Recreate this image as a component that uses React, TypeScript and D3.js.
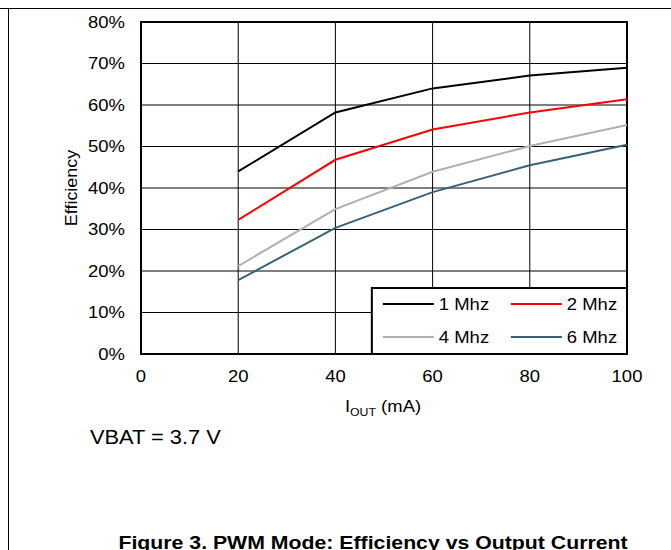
import React, { useEffect, useRef } from 'react'
import * as d3 from 'd3'

const currents = [20, 40, 60, 80, 100]
const eff1Mhz = [44.0, 58.2, 64.0, 67.1, 69.0]
const eff2Mhz = [32.3, 46.8, 54.1, 58.2, 61.4]
const eff4Mhz = [21.2, 34.9, 43.9, 50.1, 55.2]
const eff6Mhz = [17.8, 30.4, 39.0, 45.5, 50.4]
const seriesNames = ['1 Mhz', '2 Mhz', '4 Mhz', '6 Mhz']
const seriesColors = ['#000000', '#ff0000', '#b0b0b0', '#376276']
const xTicks = [0, 20, 40, 60, 80, 100]
const yTicks = [0, 10, 20, 30, 40, 50, 60, 70, 80]

const W = 671
const H = 550
const margin = { top: 22, right: 44, bottom: 196, left: 141 }
const FONT = '"Liberation Sans", Arial, sans-serif'
const SX = 1.12 // the source text is a bit wider than Arial

const Chart = () => {
  const ref = useRef<SVGSVGElement>(null)

  useEffect(() => {
    const svg = d3.select(ref.current)
    svg.selectAll('*').remove()

    const innerW = W - margin.left - margin.right
    const innerH = H - margin.top - margin.bottom

    const x = d3.scaleLinear().domain([0, 100]).range([0, innerW])
    const y = d3.scaleLinear().domain([0, 80]).range([innerH, 0])

    const label = (parent: any, px: number, py: number, size: number, anchor: string, txt: string, rot = 0) =>
      parent
        .append('text')
        .attr('transform', `translate(${px},${py}) rotate(${rot}) scale(${SX},1)`)
        .attr('dy', '0.35em')
        .attr('text-anchor', anchor)
        .attr('font-family', FONT)
        .attr('font-size', size)
        .text(txt)

    // outer frame: top and left only
    svg.append('line').attr('x1', 0).attr('x2', W).attr('y1', 8.5).attr('y2', 8.5).attr('stroke', '#000')
    svg.append('line').attr('x1', 8.5).attr('x2', 8.5).attr('y1', 8).attr('y2', H).attr('stroke', '#000')

    const g = svg.append('g').attr('transform', `translate(${margin.left},${margin.top})`)

    g.selectAll('.vgrid')
      .data(xTicks.slice(1, -1))
      .join('line')
      .attr('x1', d => x(d))
      .attr('x2', d => x(d))
      .attr('y1', 0)
      .attr('y2', innerH)
      .attr('stroke', '#000')
      .attr('stroke-width', 1)

    g.selectAll('.hgrid')
      .data(yTicks.slice(1, -1))
      .join('line')
      .attr('x1', 0)
      .attr('x2', innerW)
      .attr('y1', d => y(d))
      .attr('y2', d => y(d))
      .attr('stroke', '#000')
      .attr('stroke-width', 1)

    g.append('rect')
      .attr('x', 0)
      .attr('y', 0)
      .attr('width', innerW)
      .attr('height', innerH)
      .attr('fill', 'none')
      .attr('stroke', '#000')
      .attr('stroke-width', 2)

    yTicks.forEach(d => label(g, -16, y(d), 16.5, 'end', `${d}%`))
    xTicks.forEach(d => label(g, x(d), innerH + 22, 16.5, 'middle', `${d}`))

    const all = [eff1Mhz, eff2Mhz, eff4Mhz, eff6Mhz]
    const line = d3
      .line<number>()
      .x((_, i) => x(currents[i]))
      .y(d => y(d))

    all.forEach((vals, i) => {
      g.append('path')
        .attr('d', line(vals))
        .attr('fill', 'none')
        .attr('stroke', seriesColors[i])
        .attr('stroke-width', 2)
    })

    // legend
    const lx = x(47.5)
    const ly = y(15.9)
    const lw = innerW - lx
    const lh = innerH - ly
    const lg = g.append('g').attr('transform', `translate(${lx},${ly})`)
    lg.append('rect')
      .attr('width', lw)
      .attr('height', lh)
      .attr('fill', '#fff')
      .attr('stroke', '#000')
      .attr('stroke-width', 2)
    seriesNames.forEach((name, i) => {
      const col = i % 2
      const row = Math.floor(i / 2)
      const ox = 11 + col * 128
      const oy = 16 + row * 33
      lg.append('line')
        .attr('x1', ox)
        .attr('x2', ox + 51)
        .attr('y1', oy)
        .attr('y2', oy)
        .attr('stroke', seriesColors[i])
        .attr('stroke-width', 2)
      label(lg, ox + 56, oy, 16.5, 'start', name)
    })

    // axis titles
    const xt = g
      .append('text')
      .attr('transform', `translate(${innerW / 2 - 1},${innerH + 58}) scale(${SX},1)`)
      .attr('text-anchor', 'middle')
      .attr('font-family', FONT)
      .attr('font-size', 16.5)
    xt.append('tspan').text('I')
    xt.append('tspan').attr('font-size', 11).attr('dy', 4).text('OUT')
    xt.append('tspan').attr('dy', -4).text(' (mA)')

    label(g, -70, innerH / 2, 16, 'middle', 'Efficiency', -90)

    svg.append('text')
      .attr('transform', `translate(90,444) scale(${SX},1)`)
      .attr('font-family', FONT)
      .attr('font-size', 19.5)
      .text('VBAT = 3.7 V')

    svg.append('text')
      .attr('transform', `translate(373,549) scale(${SX},1)`)
      .attr('text-anchor', 'middle')
      .attr('font-family', FONT)
      .attr('font-weight', 'bold')
      .attr('font-size', 19)
      .text('Figure 3. PWM Mode: Efficiency vs Output Current')
  }, [])

  return <svg ref={ref} width={W} height={H} style={{ display: 'block', background: '#fff' }} />
}

const App = () => (
  <div style={{ position: 'absolute', left: 0, top: 0 }}>
    <Chart />
  </div>
)

export default App
